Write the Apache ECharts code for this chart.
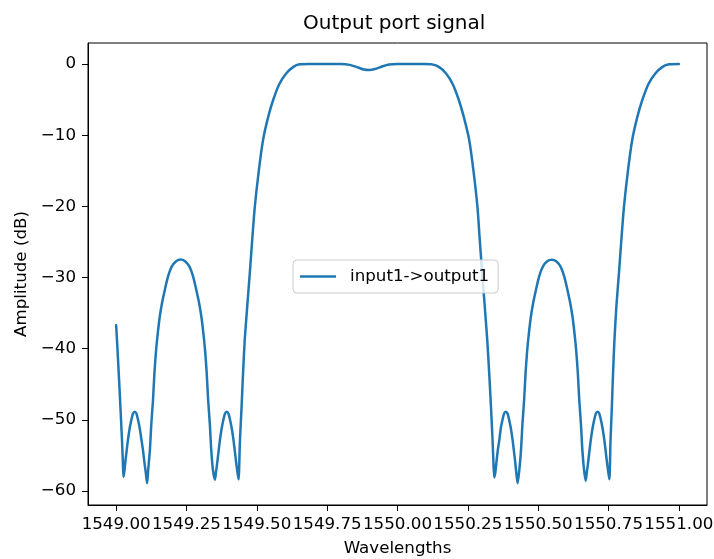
<!DOCTYPE html>
<html>
<head>
<meta charset="utf-8">
<script src="https://cdn.jsdelivr.net/npm/echarts@6/dist/echarts.min.js"></script>
<style>
html,body{margin:0;padding:0;background:#fff;}
#chart{width:714px;height:559px;}
</style>
</head>
<body>
<div id="chart"></div>
<script>
var chartTitle = 'Output port signal';
var seriesName = 'input1->output1';
var xName = 'Wavelengths';
var yName = 'Amplitude (dB)';

var wavelengths = [
  1549.000, 1549.004, 1549.010, 1549.015, 1549.021, 1549.024, 1549.026,
  1549.029, 1549.033, 1549.038, 1549.042, 1549.048, 1549.054, 1549.060, 1549.066,
  1549.072, 1549.078, 1549.084, 1549.090, 1549.095, 1549.100, 1549.105, 1549.110,
  1549.114, 1549.120, 1549.125, 1549.131, 1549.136, 1549.142, 1549.148, 1549.155,
  1549.163, 1549.173, 1549.184, 1549.197, 1549.213, 1549.229, 1549.245, 1549.261,
  1549.274, 1549.285, 1549.295, 1549.303, 1549.310, 1549.316, 1549.322, 1549.327,
  1549.333, 1549.338, 1549.344, 1549.351,
  1549.355, 1549.360, 1549.365, 1549.369, 1549.375, 1549.381, 1549.387, 1549.393,
  1549.399, 1549.405, 1549.411, 1549.417, 1549.421, 1549.426, 1549.431, 1549.435,
  1549.440, 1549.446, 1549.451, 1549.457, 1549.466, 1549.475, 1549.484, 1549.493,
  1549.507, 1549.522, 1549.540, 1549.558, 1549.580, 1549.605, 1549.630, 1549.652,
  1549.685, 1549.800, 1549.830, 1549.860, 1549.880, 1549.900, 1549.920, 1549.945,
  1549.970, 1550.000, 1550.095,
  1550.123, 1550.147, 1550.172, 1550.196, 1550.218, 1550.236, 1550.255, 1550.270,
  1550.284, 1550.292, 1550.301, 1550.310, 1550.319, 1550.326, 1550.332, 1550.338,
  1550.341, 1550.344,
  1550.348, 1550.352, 1550.357, 1550.362, 1550.367, 1550.373, 1550.379, 1550.385,
  1550.391, 1550.397, 1550.403, 1550.409, 1550.413, 1550.418, 1550.422, 1550.427,
  1550.433, 1550.439, 1550.444, 1550.450, 1550.455, 1550.461, 1550.467, 1550.474,
  1550.482, 1550.492, 1550.503, 1550.516, 1550.532, 1550.548, 1550.564, 1550.580,
  1550.593, 1550.604, 1550.614, 1550.622, 1550.629, 1550.635, 1550.641, 1550.646,
  1550.652, 1550.657, 1550.663, 1550.669,
  1550.673, 1550.678, 1550.683, 1550.687, 1550.693, 1550.699, 1550.705, 1550.711,
  1550.717, 1550.723, 1550.729, 1550.735, 1550.739, 1550.744, 1550.749, 1550.753,
  1550.757, 1550.762, 1550.766, 1550.771, 1550.778, 1550.787, 1550.796, 1550.805,
  1550.819, 1550.834, 1550.852, 1550.870, 1550.892, 1550.917, 1550.942, 1550.965,
  1551.000
];
var amplitudes = [
  -36.7, -39.5, -44.0, -48.0, -53.0, -56.0, -58.0,
  -57.3, -55.8, -54.1, -52.8, -51.2, -50.0, -49.1, -48.85,
  -49.1, -50.0, -51.2, -52.8, -54.1, -55.8, -57.3, -58.9,
  -57.0, -54.2, -50.6, -47.2, -43.5, -40.2, -37.8, -35.5,
  -33.6, -31.75, -29.9, -28.5, -27.7, -27.45, -27.7, -28.5,
  -29.9, -31.75, -33.6, -35.5, -37.8, -40.2, -43.5, -47.2,
  -50.6, -54.2, -57.0, -58.4,
  -57.3, -55.8, -54.1, -52.8, -51.2, -50.0, -49.1, -48.85,
  -49.1, -50.0, -51.2, -52.8, -54.1, -55.8, -57.3, -58.35,
  -53.0, -48.0, -43.5, -38.8, -34.0, -29.4, -24.5, -20.0,
  -15.0, -10.7, -7.5, -5.06, -2.8, -1.3, -0.4, -0.05,
  0.0, 0.0, -0.12, -0.5, -0.78, -0.85, -0.7, -0.35,
  -0.08, 0.0, 0.0,
  -0.05, -0.4, -1.3, -2.8, -5.06, -7.5, -10.7, -15.0,
  -20.0, -24.5, -29.4, -34.0, -38.8, -43.5, -48.0, -53.0,
  -56.0, -58.1,
  -57.3, -55.8, -54.1, -52.8, -51.2, -50.0, -49.1, -48.85,
  -49.1, -50.0, -51.2, -52.8, -54.1, -55.8, -57.3, -58.9,
  -57.0, -54.2, -50.6, -47.2, -43.5, -40.2, -37.8, -35.5,
  -33.6, -31.75, -29.9, -28.5, -27.7, -27.5, -27.7, -28.5,
  -29.9, -31.75, -33.6, -35.5, -37.8, -40.2, -43.5, -47.2,
  -50.6, -54.2, -57.0, -58.55,
  -57.3, -55.8, -54.1, -52.8, -51.2, -50.0, -49.1, -48.85,
  -49.1, -50.0, -51.2, -52.8, -54.1, -55.8, -57.3, -58.35,
  -53.0, -48.0, -43.5, -38.8, -34.0, -29.4, -24.5, -20.0,
  -15.0, -10.7, -7.5, -5.06, -2.8, -1.3, -0.4, -0.05,
  0.0
];
var xTicks = [1549.00, 1549.25, 1549.50, 1549.75, 1550.00, 1550.25, 1550.50, 1550.75, 1551.00];
var yTicks = [-60, -50, -40, -30, -20, -10, 0];

var FONT = 'DejaVu Sans';
var points = wavelengths.map(function (w, i) { return [w, amplitudes[i]]; });

var chart = echarts.init(document.getElementById('chart'), null, {renderer: 'canvas'});
chart.setOption({
  animation: false,
  backgroundColor: '#ffffff',
  title: {
    text: chartTitle,
    left: 303,
    top: 14,
    padding: 0,
    textStyle: {fontFamily: FONT, fontSize: 20, fontWeight: 'normal', color: '#000'}
  },
  legend: {
    data: [{name: seriesName, icon: 'rect'}],
    left: 293,
    top: 260,
    orient: 'horizontal',
    backgroundColor: 'rgba(255,255,255,0.8)',
    borderColor: '#cccccc',
    borderWidth: 1,
    borderRadius: 4,
    padding: [8, 9, 8, 7],
    itemWidth: 36,
    itemHeight: 2.5,
    itemStyle: {color: '#1f77b4', borderWidth: 0},
    textStyle: {fontFamily: FONT, fontSize: 16.7, color: '#000', lineHeight: 14, padding: [0, 0, 0, 9]}
  },
  grid: {
    left: 88, right: 7, top: 43, bottom: 54,
    containLabel: false,
    outerBoundsMode: 'none',
    show: true,
    borderColor: '#000',
    borderWidth: 1,
    backgroundColor: 'transparent'
  },
  xAxis: {
    type: 'value',
    min: 1548.9,
    max: 1551.1,
    name: xName,
    nameLocation: 'middle',
    nameGap: 35,
    nameTextStyle: {fontFamily: FONT, fontSize: 16.7, color: '#000'},
    axisLine: {show: true, onZero: false, lineStyle: {color: '#000', width: 1}},
    axisTick: {show: true, inside: false, length: 6, lineStyle: {color: '#000'}, customValues: xTicks},
    axisLabel: {
      show: true, margin: 11, fontFamily: FONT, fontSize: 16.7, color: '#000',
      customValues: xTicks,
      formatter: function (v) { return Number(v).toFixed(2); }
    },
    splitLine: {show: false}
  },
  yAxis: {
    type: 'value',
    min: -61.95,
    max: 2.95,
    name: yName,
    nameLocation: 'middle',
    nameGap: 58,
    nameRotate: 90,
    nameTextStyle: {fontFamily: FONT, fontSize: 16.7, color: '#000'},
    axisLine: {show: true, onZero: false, lineStyle: {color: '#000', width: 1}},
    axisTick: {show: true, inside: false, length: 6, lineStyle: {color: '#000'}, customValues: yTicks},
    axisLabel: {
      show: true, margin: 12, fontFamily: FONT, fontSize: 16.7, color: '#000',
      customValues: yTicks,
      formatter: function (v) { return v < 0 ? '\u2212' + Math.abs(v) : String(v); }
    },
    splitLine: {show: false}
  },
  series: [{
    name: seriesName,
    type: 'line',
    data: points,
    symbol: 'none',
    smooth: 0.25,
    clip: true,
    lineStyle: {color: '#1f77b4', width: 2.5, join: 'round', cap: 'round'},
    itemStyle: {color: '#1f77b4'}
  }]
});
</script>
</body>
</html>
